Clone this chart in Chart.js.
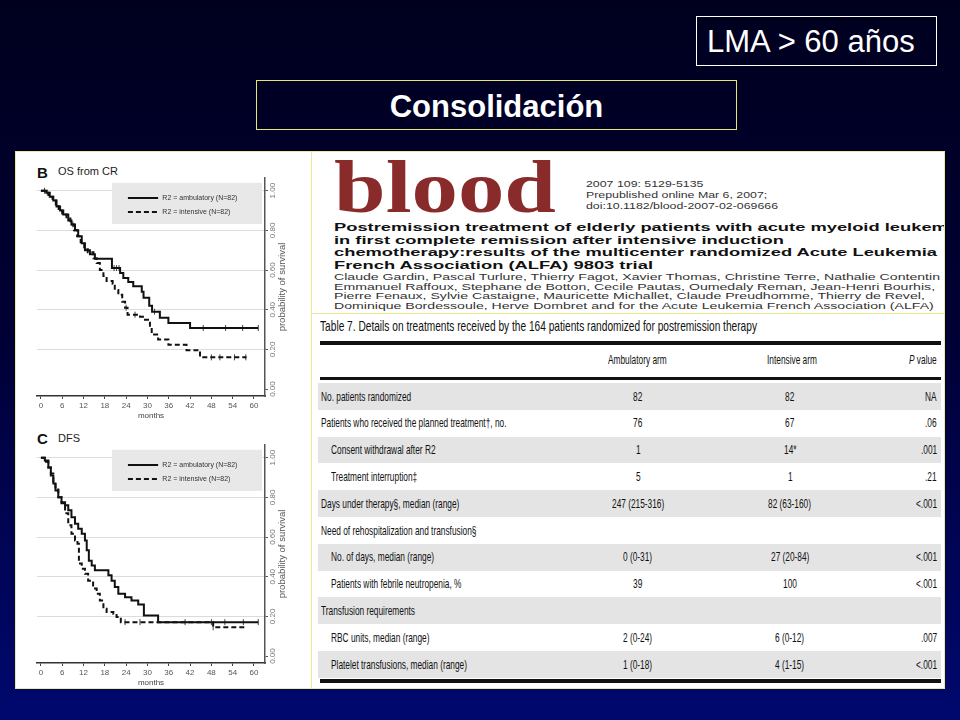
<!DOCTYPE html>
<html>
<head>
<meta charset="utf-8">
<title>LMA &gt; 60 años - Consolidación</title>
<script src="https://cdn.jsdelivr.net/npm/chart.js@4.4.1/dist/chart.umd.min.js"></script>
<style>
  html, body { margin: 0; padding: 0; }
  body {
    width: 960px; height: 720px; overflow: hidden; position: relative;
    background: linear-gradient(180deg, #00001e 0%, #000034 45%, #00086e 100%);
    font-family: Arial, "Liberation Sans", sans-serif;
  }
  .box { position: absolute; box-sizing: border-box; color: #fff; font-size: 31px; line-height: 47px; }
  #lma { left: 696px; top: 16px; width: 241px; height: 50px; border: 1px solid #fff; padding: 1px 0 0 10px; }
  #cons { left: 256px; top: 80px; width: 481px; height: 50px; border: 1px solid #e6e66a; padding-top: 2px; text-align: center; font-weight: bold; }
  .panel { position: absolute; box-sizing: border-box; background: #fff; border: 1px solid #ecec94; }
  canvas { position: absolute; }
  #clip { position: absolute; left: 0; top: 0; width: 944px; height: 720px; overflow: hidden; }
  .lbl { position: absolute; white-space: nowrap; transform-origin: left center; }
  .rect { position: absolute; }
</style>
</head>
<body>
  <div class="box" id="lma">LMA &gt; 60 años</div>
  <div class="box" id="cons">Consolidación</div>

  <div class="panel" style="left:15px; top:151px; width:297px; height:538px"></div>
  <div class="panel" style="left:311px; top:151px; width:634px; height:163px"></div>
  <div class="panel" style="left:311px; top:313px; width:634px; height:376px"></div>

  <div id="clip"></div>

  <canvas id="osChart" width="296" height="272" style="left:15px; top:150px"></canvas>
  <canvas id="dfsChart" width="296" height="272" style="left:15px; top:417px"></canvas>

<script>
Chart.defaults.font.family = 'Arial, "Liberation Sans", sans-serif';

// axis ticks
const xTicks = [0, 6, 12, 18, 24, 30, 36, 42, 48, 54, 60];
const yTicks = [0, 0.2, 0.4, 0.6, 0.8, 1.0];
const legendLabels = ['R2 = ambulatory (N=82)', 'R2 = intensive (N=82)'];

// B - OS from CR (months, probability)
const osAmbMonths = [0, 1.5, 2.5, 3.5, 4.4, 5.4, 6.3, 7.7, 8.6, 9.6, 10.5, 11.5, 12.4, 13.8, 15.2, 20.0, 22.3, 23.2, 24.6, 26.0, 28.4, 28.9, 30.5, 31.3, 33.5, 35.9, 42.0, 61.2];
const osAmbSurv   = [1.0, 0.99, 0.97, 0.95, 0.92, 0.90, 0.88, 0.85, 0.83, 0.80, 0.77, 0.735, 0.70, 0.68, 0.657, 0.61, 0.585, 0.56, 0.54, 0.518, 0.49, 0.46, 0.42, 0.39, 0.36, 0.333, 0.308, 0.308];
const osIntMonths = [0, 1.2, 2.2, 3.3, 4.2, 5.0, 6.0, 7.2, 8.3, 9.3, 10.2, 11.2, 12.2, 13.2, 14.8, 15.7, 16.6, 17.6, 18.5, 20.2, 20.8, 21.8, 22.9, 23.7, 24.4, 27.9, 29.3, 30.7, 31.2, 33.0, 35.9, 41.0, 44.8, 57.9];
const osIntSurv   = [1.0, 0.99, 0.97, 0.95, 0.93, 0.90, 0.88, 0.86, 0.83, 0.80, 0.77, 0.74, 0.705, 0.69, 0.66, 0.635, 0.60, 0.57, 0.545, 0.53, 0.50, 0.475, 0.44, 0.41, 0.375, 0.365, 0.35, 0.31, 0.275, 0.25, 0.223, 0.196, 0.16, 0.16];
const osAmbCensor = [1.0, 1.8, 20.6, 21.3, 22.0, 32.0, 45.7, 52.0, 56.8, 61.2];
const osIntCensor = [9.0, 24.0, 26.5, 48.0, 50.4, 54.5, 57.7];

// C - DFS
const dfsAmbMonths = [0, 1.1, 2.1, 2.8, 3.5, 4.1, 4.9, 5.8, 6.8, 7.7, 8.6, 9.6, 10.5, 11.5, 12.4, 12.9, 13.5, 14.3, 15.2, 19.0, 19.9, 20.8, 21.8, 23.7, 25.5, 27.4, 29.0, 33.0, 61.2];
const dfsAmbSurv   = [1.0, 0.986, 0.95, 0.91, 0.87, 0.835, 0.80, 0.776, 0.76, 0.735, 0.70, 0.667, 0.642, 0.617, 0.583, 0.533, 0.48, 0.457, 0.432, 0.407, 0.38, 0.348, 0.314, 0.297, 0.28, 0.26, 0.205, 0.171, 0.171];
const dfsIntMonths = [0, 1.1, 2.1, 2.8, 3.5, 4.1, 4.9, 5.8, 6.8, 7.7, 8.6, 9.6, 10.3, 10.7, 11.5, 12.4, 13.3, 14.7, 15.7, 16.6, 17.6, 18.5, 20.4, 21.3, 22.5, 48.5, 57.6];
const dfsIntSurv   = [1.0, 0.98, 0.95, 0.92, 0.88, 0.84, 0.80, 0.77, 0.72, 0.66, 0.617, 0.583, 0.566, 0.466, 0.44, 0.415, 0.38, 0.34, 0.314, 0.28, 0.239, 0.222, 0.213, 0.197, 0.171, 0.145, 0.145];
const dfsAmbCensor = [40.6, 48.0, 51.8, 57.0, 61.2];
const dfsIntCensor = [23.7, 27.9, 48.5];

// Table 7
const tableHeader = ['Ambulatory arm', 'Intensive arm', '<i>P</i> value'];
const tableRows = [
  ['No. patients randomized', '82', '82', 'NA', 0],
  ['Patients who received the planned treatment†, no.', '76', '67', '.06', 0],
  ['Consent withdrawal after R2', '1', '14*', '.001', 1],
  ['Treatment interruption‡', '5', '1', '.21', 1],
  ['Days under therapy§, median (range)', '247 (215-316)', '82 (63-160)', '<.001', 0],
  ['Need of rehospitalization and transfusion§', '', '', '', 0],
  ['No. of days, median (range)', '0 (0-31)', '27 (20-84)', '<.001', 1],
  ['Patients with febrile neutropenia, %', '39', '100', '<.001', 1],
  ['Transfusion requirements', '', '', '', 0],
  ['RBC units, median (range)', '2 (0-24)', '6 (0-12)', '.007', 1],
  ['Platelet transfusions, median (range)', '1 (0-18)', '4 (1-15)', '<.001', 1]
];

function steps(months, surv) {
  return months.map((m, i) => ({ x: m, y: surv[i] }));
}
function survAt(t, months, surv) {
  let s = surv[0];
  for (let i = 0; i < months.length; i++) if (months[i] <= t) s = surv[i];
  return s;
}
function censorPoints(times, months, surv) {
  return times.map(t => ({ x: t, y: survAt(t, months, surv) }));
}

// legend box + right axis title
const kmDecor = {
  id: 'kmDecor',
  afterDatasetsDraw(chart) {
    const { ctx, chartArea: a, scales: { x, y } } = chart;
    ctx.save();
    const bl = x.getPixelForValue(20), br = a.right - 3;
    const bt = y.getPixelForValue(1.04), bb = y.getPixelForValue(0.832);
    ctx.fillStyle = '#e8e8e8';
    ctx.fillRect(bl, bt, br - bl, bb - bt);
    [0.965, 0.895].forEach((v, i) => {
      const py = Math.round(y.getPixelForValue(v));
      ctx.beginPath();
      ctx.setLineDash(i ? [5, 3] : []);
      ctx.lineWidth = 2;
      ctx.strokeStyle = '#111';
      ctx.moveTo(x.getPixelForValue(24.5), py);
      ctx.lineTo(x.getPixelForValue(33), py);
      ctx.stroke();
      ctx.setLineDash([]);
      ctx.fillStyle = '#333';
      ctx.font = '7px Arial';
      ctx.textBaseline = 'middle';
      ctx.textAlign = 'left';
      ctx.fillText(legendLabels[i], x.getPixelForValue(34.2), py);
    });
    ctx.translate(a.right + 17, (a.top + a.bottom) / 2);
    ctx.rotate(-Math.PI / 2);
    ctx.textAlign = 'center';
    ctx.textBaseline = 'middle';
    ctx.font = '9.5px Arial';
    ctx.fillStyle = '#555';
    ctx.fillText('probability of survival', 0, 0);
    ctx.restore();
  }
};

function makeKm(id, ambM, ambS, intM, intS, ambC, intC) {
  return new Chart(document.getElementById(id), {
    type: 'line',
    data: {
      datasets: [
        { data: steps(ambM, ambS), stepped: true, borderColor: '#111', borderWidth: 2, pointRadius: 0, fill: false },
        { data: steps(intM, intS), stepped: true, borderColor: '#111', borderWidth: 2, borderDash: [5, 3], pointRadius: 0, fill: false },
        { type: 'scatter', data: censorPoints(ambC, ambM, ambS), pointStyle: 'line', pointRotation: 90, pointRadius: 3, pointBorderColor: '#444', pointBorderWidth: 1 },
        { type: 'scatter', data: censorPoints(intC, intM, intS), pointStyle: 'line', pointRotation: 90, pointRadius: 3, pointBorderColor: '#444', pointBorderWidth: 1 }
      ]
    },
    options: {
      responsive: false,
      animation: false,
      devicePixelRatio: 1,
      layout: { padding: { left: 22, top: 28, right: 10, bottom: 0 } },
      plugins: { legend: { display: false }, tooltip: { enabled: false } },
      scales: {
        x: {
          type: 'linear', min: -1.1, max: 63.1,
          afterBuildTicks: s => { s.ticks = xTicks.map(v => ({ value: v })); },
          afterFit: s => { s.height = 26; },
          grid: { drawOnChartArea: false, drawTicks: true, tickLength: 3, tickColor: '#444' },
          border: { color: '#333', width: 1.5 },
          ticks: { color: '#555', font: { size: 8 }, padding: 2, maxRotation: 0, autoSkip: false },
          title: { display: true, text: 'months', color: '#444', font: { size: 8 }, padding: { top: 0, bottom: 1 } }
        },
        y: {
          type: 'linear', position: 'right', min: -0.035, max: 1.064,
          afterBuildTicks: s => { s.ticks = yTicks.map(v => ({ value: v })); },
          afterFit: s => { s.width = 36; },
          grid: { color: c => (c.tick && c.tick.value === 0) ? 'rgba(0,0,0,0)' : '#dcdcdc', tickLength: 3, tickColor: '#555' },
          border: { color: '#555', width: 1.5 },
          ticks: { color: '#777', font: { size: 8 }, minRotation: 90, maxRotation: 90, crossAlign: 'center', padding: -3,
                   callback: v => Number(v).toFixed(2) }
        }
      }
    },
    plugins: [kmDecor]
  });
}

makeKm('osChart', osAmbMonths, osAmbSurv, osIntMonths, osIntSurv, osAmbCensor, osIntCensor);
makeKm('dfsChart', dfsAmbMonths, dfsAmbSurv, dfsIntMonths, dfsIntSurv, dfsAmbCensor, dfsIntCensor);

// ---- text on the slide ----
const clip = document.getElementById('clip');

function label(text, o) {
  const d = document.createElement('div');
  d.className = 'lbl';
  if (o.html) d.innerHTML = text; else d.textContent = text;
  d.style.fontSize = o.size + 'px';
  d.style.lineHeight = (o.size * 1.2) + 'px';
  d.style.top = (o.y - o.size * 0.6) + 'px';
  d.style.fontWeight = o.bold ? 'bold' : 'normal';
  d.style.color = o.color || '#111';
  if (o.font) d.style.fontFamily = o.font;
  d.style.left = '0px';
  clip.appendChild(d);
  const w = d.getBoundingClientRect().width;
  const sx = o.w ? o.w / w : (o.sx || 1);
  let left = o.x;
  if (o.align === 'center') left = o.x - w * sx / 2;
  else if (o.align === 'right') left = o.x - w * sx;
  d.style.left = left + 'px';
  d.style.transform = 'scaleX(' + sx + ')';
  return sx;
}
function rect(x, y, w, h, color) {
  const d = document.createElement('div');
  d.className = 'rect';
  d.style.cssText = `left:${x}px;top:${y}px;width:${w}px;height:${h}px;background:${color}`;
  clip.appendChild(d);
}

// panel titles
label('B', { x: 37, y: 172.5, size: 15, bold: true, color: '#111' });
label('OS from CR', { x: 58, y: 172, size: 11, color: '#222' });
label('C', { x: 37, y: 439, size: 15, bold: true, color: '#111' });
label('DFS', { x: 58, y: 438.5, size: 11, color: '#222' });

// journal header
label('blood', { x: 334, y: 187, size: 74, bold: true, color: '#8a2b2b', font: '"Liberation Serif", "DejaVu Serif", serif', w: 222 });
label('2007 109: 5129-5135', { x: 586, y: 184, size: 9.5, color: '#333', sx: 1.3 });
label('Prepublished online Mar 6, 2007;', { x: 586, y: 195, size: 9.5, color: '#333', sx: 1.3 });
label('doi:10.1182/blood-2007-02-069666', { x: 586, y: 206, size: 9.5, color: '#333', sx: 1.3 });

const tsx = label('chemotherapy:results of the multicenter randomized Acute Leukemia', { x: 334, y: 253, size: 11, bold: true, color: '#111', w: 603 });
label('Postremission treatment of elderly patients with acute myeloid leukemia', { x: 334, y: 228, size: 11, bold: true, color: '#111', sx: tsx });
label('in first complete remission after intensive induction', { x: 334, y: 240.5, size: 11, bold: true, color: '#111', sx: tsx });
label('French Association (ALFA) 9803 trial', { x: 334, y: 265.5, size: 11, bold: true, color: '#111', sx: tsx });

const asx = label('Claude Gardin, Pascal Turlure, Thierry Fagot, Xavier Thomas, Christine Terre, Nathalie Contentin', { x: 334, y: 277.5, size: 9, color: '#333', w: 606 });
label('Emmanuel Raffoux, Stephane de Botton, Cecile Pautas, Oumedaly Reman, Jean-Henri Bourhis,', { x: 334, y: 287, size: 9, color: '#333', sx: asx });
label('Pierre Fenaux, Sylvie Castaigne, Mauricette Michallet, Claude Preudhomme, Thierry de Revel,', { x: 334, y: 296.5, size: 9, color: '#333', sx: asx });
label('Dominique Bordessoule, Herve Dombret and for the Acute Leukemia French Association (ALFA)', { x: 334, y: 306, size: 9, color: '#333', sx: asx });

// table 7
label('Table 7. Details on treatments received by the 164 patients randomized for postremission therapy', { x: 320, y: 326, size: 15, color: '#111', w: 437 });
rect(320, 341, 621, 3.5, '#111');
label(tableHeader[0], { x: 637, y: 360, size: 13, align: 'center', sx: 0.64 });
label(tableHeader[1], { x: 792, y: 360, size: 13, align: 'center', sx: 0.64 });
label(tableHeader[2], { x: 937, y: 360, size: 13, align: 'right', sx: 0.64, html: true });
rect(320, 376.5, 621, 3, '#111');

const rowTop = 383, rowH = 26.8;
tableRows.forEach((r, i) => {
  const cy = rowTop + rowH * (i + 0.5);
  if (i % 2 === 0) rect(318, cy - rowH / 2, 623, rowH, '#e4e4e4');
  label(r[0], { x: r[4] ? 331 : 321, y: cy, size: 13, sx: 0.64 });
  if (r[1]) label(r[1], { x: 638, y: cy, size: 13, align: 'center', sx: 0.64 });
  if (r[2]) label(r[2], { x: 790, y: cy, size: 13, align: 'center', sx: 0.64 });
  if (r[3]) label(r[3], { x: 937, y: cy, size: 13, align: 'right', sx: 0.64 });
});
rect(320, rowTop + rowH * tableRows.length + 1, 621, 4, '#111');
</script>
</body>
</html>
